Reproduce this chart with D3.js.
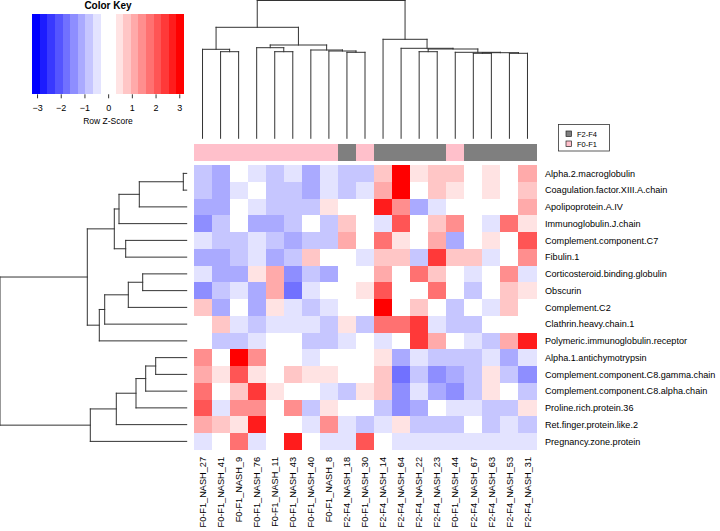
<!DOCTYPE html>
<html><head><meta charset="utf-8">
<script src="https://cdn.jsdelivr.net/npm/d3@7"></script>
<style>body{margin:0;background:#fff}svg{display:block;font-family:"Liberation Sans",Arial,sans-serif}</style>
</head><body>
<svg id="c" width="720" height="531"></svg>
<script>
// ---------------- data ----------------
const colLabels = ["F0-F1_NASH_27","F0-F1_NASH_41","F0-F1_NASH_9","F0-F1_NASH_76","F0-F1_NASH_11","F0-F1_NASH_43","F0-F1_NASH_40","F0-F1_NASH_8","F2-F4_NASH_18","F0-F1_NASH_30","F2-F4_NASH_14","F2-F4_NASH_64","F2-F4_NASH_22","F2-F4_NASH_23","F0-F1_NASH_44","F2-F4_NASH_67","F2-F4_NASH_63","F2-F4_NASH_53","F2-F4_NASH_31"];
const colGroups = ["F0-F1","F0-F1","F0-F1","F0-F1","F0-F1","F0-F1","F0-F1","F0-F1","F2-F4","F0-F1","F2-F4","F2-F4","F2-F4","F2-F4","F0-F1","F2-F4","F2-F4","F2-F4","F2-F4"];
const rowLabels = ["Alpha.2.macroglobulin","Coagulation.factor.XIII.A.chain","Apolipoprotein.A.IV","Immunoglobulin.J.chain","Complement.component.C7","Fibulin.1","Corticosteroid.binding.globulin","Obscurin","Complement.C2","Clathrin.heavy.chain.1","Polymeric.immunoglobulin.receptor","Alpha.1.antichymotrypsin","Complement.component.C8.gamma.chain","Complement.component.C8.alpha.chain","Proline.rich.protein.36","Ret.finger.protein.like.2","Pregnancy.zone.protein"];
// row z-scores (rows x columns, in displayed order)
const zScores = [
 [-0.8,-1.1, 0.0,-0.5,-0.8,-0.5,-1.1,-0.5,-0.8,-0.8, 0.8, 3.0, 0.5, 0.8, 0.8, 0.0, 0.5, 0.0, 1.1],
 [-0.8,-1.1,-0.5, 0.0,-0.8,-0.8,-1.1,-0.5,-0.8,-0.5, 1.1, 3.0, 0.0, 0.8, 0.5, 0.0, 0.5, 0.0, 0.8],
 [-1.1,-1.1, 0.0,-0.5,-0.8,-0.8,-0.8, 0.5, 0.0, 0.0, 2.7, 1.4,-1.1,-0.5, 0.0, 0.0, 0.0, 0.0, 1.1],
 [-1.4,-0.8, 0.0,-1.1,-1.1,-0.8, 0.0,-0.8, 0.8, 0.0,-0.5, 2.1, 0.0, 0.8, 1.4, 0.0,-0.5, 1.8, 0.5],
 [-0.5,-0.8,-0.8,-0.5,-0.8,-1.1,-0.8,-0.8, 1.1, 0.0, 1.8, 0.5, 0.0, 1.1,-1.1, 0.0, 0.5, 0.0, 2.1],
 [-1.1,-1.1,-0.8,-0.5,-1.1,-0.8, 0.8, 0.0, 0.0,-0.5, 0.8, 0.8,-0.8, 2.4, 0.8, 0.8,-0.5, 0.0, 1.4],
 [-0.5,-1.1,-1.1, 0.5, 1.1,-1.4,-0.8,-1.1, 0.0, 0.0, 1.1, 0.0, 1.8, 0.8, 0.0,-0.5, 0.0, 1.4,-0.5],
 [-1.4,-0.8,-0.5,-1.1, 1.1,-1.8,-0.5, 0.0, 0.0, 0.5, 2.1, 0.0, 0.0, 1.8, 0.0,-0.8, 0.0, 0.8, 0.5],
 [ 0.8,-1.1, 0.0,-1.1, 0.5,-0.5,-0.8,-0.5, 0.0, 0.0, 3.0, 0.0, 0.8, 0.0,-0.8, 0.0,-0.5, 0.8, 0.0],
 [ 0.0, 0.8,-0.5,-0.8,-0.5,-0.5,-0.5,-0.8, 0.5,-0.8, 1.8, 1.8, 2.4,-0.5,-0.8,-0.8, 0.0, 0.0, 0.0],
 [ 0.0,-0.8,-0.8,-0.5, 0.0, 0.0,-0.8,-0.8,-0.5, 0.0,-0.5, 0.0, 2.4, 1.1, 0.0,-0.5,-0.8, 1.1, 2.7],
 [ 1.4, 0.0, 3.0, 1.4, 0.0, 0.0,-0.5, 0.0, 0.0, 0.0, 0.5,-1.1,-0.5,-0.8,-0.8,-0.8,-0.5,-1.1,-0.5],
 [ 1.1, 0.5, 2.1, 0.5, 0.0, 0.8, 0.5, 0.5, 0.0, 0.0, 0.8,-1.8,-0.8,-1.4,-1.1,-0.8, 0.5,-0.8,-1.4],
 [ 1.8, 0.0, 0.8, 2.4, 0.5, 0.0, 0.0,-0.5,-0.8, 0.5, 0.8,-1.4,-0.5,-1.1,-1.4,-0.8, 0.5, 0.0,-0.8],
 [ 2.1,-0.5, 1.4, 1.4, 0.0, 1.4,-0.8, 0.5, 0.0, 0.0,-0.8,-1.4,-1.1, 0.0,-0.5,-0.5,-0.8,-0.8, 0.5],
 [ 1.1, 0.8, 0.5, 2.7, 0.0, 0.0,-0.5, 1.4,-0.5,-0.8,-0.5, 0.5,-0.8,-0.8,-0.8, 0.0,-0.8,-0.5,-0.8],
 [-0.5, 0.0, 1.8,-0.5, 0.0, 2.7, 0.0,-0.5,-0.5, 2.1, 0.0,-0.5,-0.5,-0.5,-0.5,-0.5,-0.5,-0.5,-0.5]
];
// dendrograms: [height, left, right]; numbers are leaf indices
const colTree = [137.8,
  [111.0, [89.0, 0, [86.6, 1, 2]], [93.3, [90.6, 3, [86.6, 4, 5]], [88.3, 6, [87.3, 7, [86.0, 8, 9]]]]],
  [99.0, 10, [90.0, 11, [89.3, [86.6, 12, 13], [86.0, 14, [85.6, [85.0, 15, 16], [85.0, 17, 18]]]]]]];
const rowTree = [186.7,
  [99.4, [72.4, [67.7, [47.4, [3.4, 0, 1], 2], 3], [61.0, 4, 5]], [87.4, [82.0, [58.4, [44.0, 6, 7], 8], 9], 10]],
  [96.4, [70.4, [50.7, [41.0, [31.0, 11, 12], 13], 14], 15], 16]];
const keyTicks = [-3,-2,-1,0,1,2,3];
const keyRange = [-3.2, 3.2];
const legendGroups = ["F2-F4","F0-F1"];
const groupColors = {"F0-F1":"#FFC0CB","F2-F4":"#7F7F7F"};

// ---------------- drawing ----------------
const svg = d3.select("#c");
const nBands = 20;
const palette = [];
for (let k=0;k<nBands/2;k++) palette.push(d3.interpolateRgb("#0000FF","#FFFFFF")(k/(nBands/2-1)));
for (let k=0;k<nBands/2;k++) palette.push(d3.interpolateRgb("#FFFFFF","#FF0000")(k/(nBands/2-1)));
const color = d3.scaleQuantize().domain(keyRange).range(palette);

const hmX0=193.5, hmX1=536.5, hmY0=165, hmY1=449.75;
const x = d3.scaleBand().domain(d3.range(colLabels.length)).range([hmX0,hmX1]);
const y = d3.scaleBand().domain(d3.range(rowLabels.length)).range([hmY0,hmY1]);
const xPos = d3.scaleLinear().domain([-0.5,colLabels.length-0.5]).range([hmX0,hmX1]);
const yPos = d3.scaleLinear().domain([-0.5,rowLabels.length-0.5]).range([hmY0,hmY1]);

// heat cells
const cells = [];
zScores.forEach((r,i)=>r.forEach((v,j)=>cells.push({i,j,v})));
svg.append("g").attr("shape-rendering","crispEdges").selectAll("rect").data(cells).join("rect")
  .attr("x",d=>x(d.j)).attr("y",d=>y(d.i)).attr("width",x.bandwidth()).attr("height",y.bandwidth())
  .attr("fill",d=>color(d.v));

// column side colours
svg.append("g").attr("shape-rendering","crispEdges").selectAll("rect").data(colGroups).join("rect")
  .attr("x",(d,j)=>x(j)).attr("y",144).attr("width",x.bandwidth()).attr("height",16.7)
  .attr("fill",d=>groupColors[d]);

// dendrogram helpers
function build(t){ if(typeof t==="number") return {h:0,pos:t}; const A=build(t[1]),B=build(t[2]); return {h:t[0],kids:[A,B],pos:(A.pos+B.pos)/2}; }
function segs(n,out){ if(!n.kids) return out; n.kids.forEach(k=>{out.push({stem:true,p:k.pos,h0:k.h,h1:n.h}); segs(k,out);}); out.push({stem:false,p0:n.kids[0].pos,p1:n.kids[1].pos,h:n.h}); return out; }

const colSegs = segs(build(colTree),[]);
const hTop = d3.scaleLinear().domain([0,137.8]).range([138.3,0.5]);
svg.append("g").attr("stroke","#333").attr("stroke-width",1).attr("stroke-linecap","square")
  .selectAll("line").data(colSegs).join("line")
  .attr("x1",d=>d.stem?xPos(d.p):xPos(d.p0)).attr("x2",d=>d.stem?xPos(d.p):xPos(d.p1))
  .attr("y1",d=>d.stem?hTop(d.h0):hTop(d.h)).attr("y2",d=>d.stem?hTop(d.h1):hTop(d.h));

const rowSegs = segs(build(rowTree),[]);
const hLeft = d3.scaleLinear().domain([0,186.7]).range([186.7,0]);
svg.append("g").attr("stroke","#333").attr("stroke-width",1).attr("stroke-linecap","square")
  .selectAll("line").data(rowSegs).join("line")
  .attr("y1",d=>d.stem?yPos(d.p):yPos(d.p0)).attr("y2",d=>d.stem?yPos(d.p):yPos(d.p1))
  .attr("x1",d=>d.stem?hLeft(d.h0):hLeft(d.h)).attr("x2",d=>d.stem?hLeft(d.h1):hLeft(d.h));

// row labels
svg.append("g").selectAll("text").data(rowLabels).join("text")
  .attr("x",545).attr("y",(d,i)=>y(i)+y.bandwidth()/2).attr("dy","0.35em")
  .attr("font-size","9.1px").attr("fill","#000").text(d=>d);

// column labels
svg.append("g").selectAll("text").data(colLabels).join("text")
  .attr("transform",(d,j)=>`translate(${x(j)+x.bandwidth()/2},457) rotate(-90)`)
  .attr("text-anchor","end").attr("dy","0.35em")
  .attr("font-size","9.2px").attr("fill","#000").text(d=>d);

// colour key
const kx = d3.scaleLinear().domain(keyRange).range([32.3,184]);
const breaks = d3.range(nBands+1).map(k=>keyRange[0]+k*(keyRange[1]-keyRange[0])/nBands);
svg.append("g").attr("shape-rendering","crispEdges").selectAll("rect").data(d3.range(nBands)).join("rect")
  .attr("x",k=>kx(breaks[k])).attr("width",k=>kx(breaks[k+1])-kx(breaks[k])+0.3)
  .attr("y",14).attr("height",80.3).attr("fill",k=>palette[k]);
const keyAxis = svg.append("g").attr("transform","translate(0,94.3)")
  .call(d3.axisBottom(kx).tickValues(keyTicks).tickFormat(d3.format("d")).tickSize(4).tickSizeOuter(0).tickPadding(6));
keyAxis.select(".domain").remove();
keyAxis.selectAll("line").attr("stroke","#333");
keyAxis.selectAll("text").attr("font-size","9px").attr("font-family","Liberation Sans, Arial, sans-serif").attr("fill","#000");
svg.append("text").attr("x",108).attr("y",8.5).attr("text-anchor","middle")
  .attr("font-size","10px").attr("font-weight","bold").text("Color Key");
svg.append("text").attr("x",108).attr("y",124).attr("text-anchor","middle")
  .attr("font-size","8.5px").text("Row Z-Score");

// legend
const lg = svg.append("g");
lg.append("rect").attr("x",558.5).attr("y",124.5).attr("width",51).attr("height",26.5)
  .attr("fill","#fff").attr("stroke","#333").attr("stroke-width",0.8);
lg.selectAll("rect.sw").data(legendGroups).join("rect").attr("class","sw")
  .attr("x",566).attr("y",(d,i)=>131+i*10).attr("width",5.5).attr("height",5.5)
  .attr("fill",d=>groupColors[d]).attr("stroke","#222").attr("stroke-width",0.7);
lg.selectAll("text").data(legendGroups).join("text")
  .attr("x",577).attr("y",(d,i)=>134+i*10).attr("dy","0.35em")
  .attr("font-size","7.5px").text(d=>d);
</script>
</body></html>
